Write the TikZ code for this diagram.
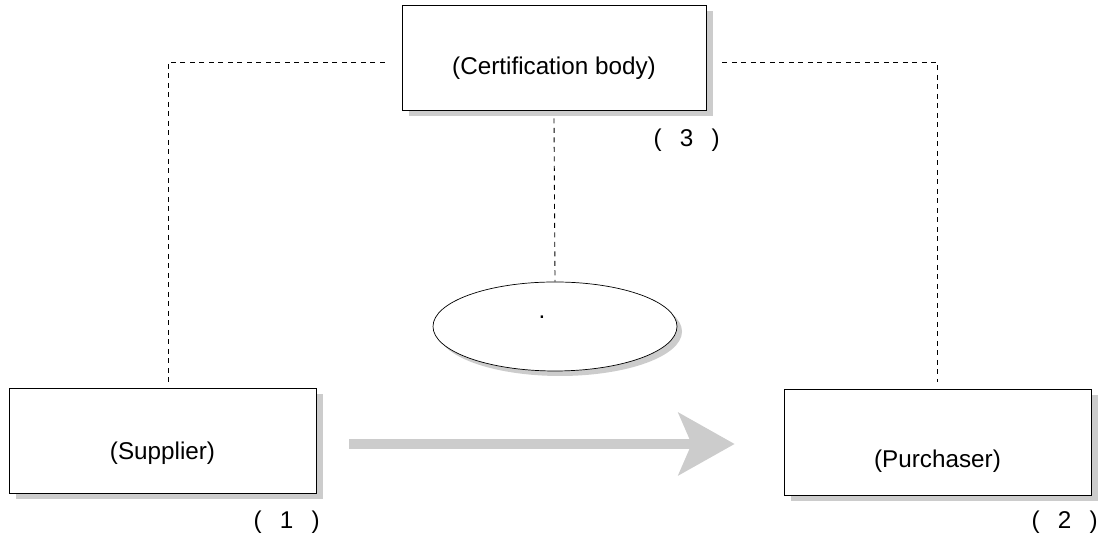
\documentclass[tikz,border=0pt]{standalone}
\usepackage{fontspec}
\setmainfont{Liberation Sans}
\usepackage{tikz}
\usetikzlibrary{shadows, arrows.meta, positioning, calc, shapes.geometric}
\definecolor{shade}{RGB}{204,204,204}

\begin{document}
\begin{tikzpicture}[
  font=\fontsize{13.8}{16}\selectfont,
  party/.style={draw, thin, fill=white, inner sep=0pt, minimum width=6.14cm, minimum height=2.1cm,
    drop shadow={shadow xshift=0.13cm, shadow yshift=-0.13cm, fill=shade, opacity=1}},
  number/.style={anchor=east, inner sep=0pt},
  link/.style={line width=0.5pt, dash pattern=on 0.1cm off 0.09cm},
  flow/.style={draw=shade, line width=0.2cm, -{Stealth[length=1.12cm, width=1.24cm, inset=0.26cm, fill=shade]}}
]
\useasboundingbox (0,0) rectangle (22.16,10.78);
% the three parties
\node[party, minimum width=6.08cm, label={[yshift=-0.22cm]center:(Certification body)}] (cert) at (11.08,9.63) {};
\node[party, label={[yshift=-0.25cm]center:(Supplier)}] (supp) at (3.25,1.97) {};
\node[party, minimum height=2.12cm, label={[yshift=-0.38cm]center:(Purchaser)}] (purch) at (18.75,1.94) {};
\node[number] (n3) at (14.4,7.98) {(\hspace{0.75em}3\hspace{0.75em})};
\node[number] (n1) at (6.4,0.34) {(\hspace{0.75em}1\hspace{0.75em})};
\node[number] (n2) at (21.96,0.34) {(\hspace{0.75em}2\hspace{0.75em})};
% the contract between them
\node[ellipse, draw, thin, fill=white, inner sep=0pt, minimum width=4.88cm, minimum height=1.78cm,
  drop shadow={shadow xshift=0.1cm, shadow yshift=-0.1cm, fill=shade, opacity=1},
  label={[xshift=-0.26cm, yshift=0.19cm]center:.}] (contract) at (11.10,4.25) {};
% dashed relations
\draw[link] ([shift={(-0.34,-0.09)}]cert.west) -| ([shift={(0.11,0.12)}]supp.north);
\draw[link] ([shift={(0.32,-0.09)}]cert.east) -| ([yshift=0.14cm]purch.north);
\draw[link] ([yshift=-0.16cm]cert.south) -- (contract.north);
% delivery
\coordinate (start) at ([shift={(0.66,-0.07)}]supp.east);
\draw[flow, shorten >=0.98cm] (start) -- (start -| purch.west);
\end{tikzpicture}
\end{document}
